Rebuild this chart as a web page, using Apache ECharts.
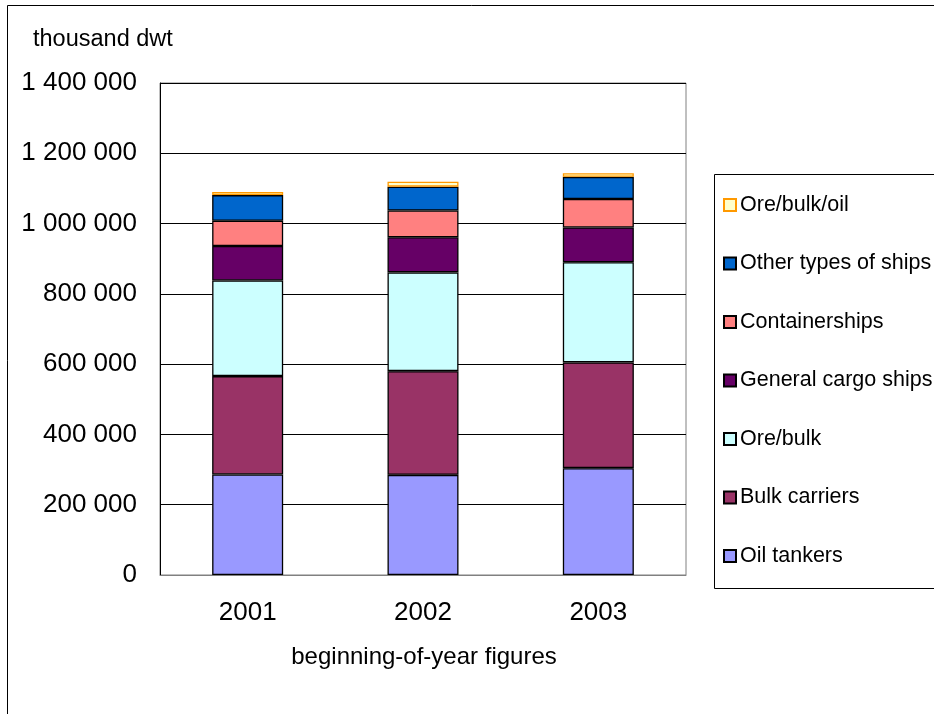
<!DOCTYPE html>
<html>
<head>
<meta charset="utf-8">
<script src="https://cdn.jsdelivr.net/npm/echarts@6/dist/echarts.min.js"></script>
<style>
html,body{margin:0;padding:0;background:#fff;}
#chart{width:934px;height:714px;}
</style>
</head>
<body>
<div id="chart"></div>
<script>
const categories = ['2001', '2002', '2003'];
const oilTankers = [286000, 285000, 304000];
const bulkCarriers = [280000, 295000, 301000];
const oreBulk = [272000, 281000, 285000];
const generalCargo = [98000, 100000, 99000];
const containerships = [72000, 76000, 81000];
const otherTypes = [73000, 68000, 63000];
const oreBulkOil = [9000, 14000, 10000];
const seriesNames = ['Oil tankers', 'Bulk carriers', 'Ore/bulk', 'General cargo ships', 'Containerships', 'Other types of ships', 'Ore/bulk/oil'];
const seriesData = [oilTankers, bulkCarriers, oreBulk, generalCargo, containerships, otherTypes, oreBulkOil];
const colors = ['#9999FF', '#993366', '#CCFFFF', '#660066', '#FF8080', '#0066CC', '#FFFFCC'];
const borders = ['#000', '#000', '#000', '#000', '#000', '#000', '#FF9900'];
const yTicks = [0, 200000, 400000, 600000, 800000, 1000000, 1200000, 1400000];

const FONT = '"Liberation Sans", Arial, sans-serif';
const chart = echarts.init(document.getElementById('chart'), null, {renderer: 'canvas'});

const series = seriesNames.map((n, i) => ({
  name: n,
  type: 'bar',
  stack: 'total',
  barWidth: 71,
  data: seriesData[i],
  itemStyle: {color: colors[i], borderColor: borders[i], borderWidth: 1.3},
  emphasis: {disabled: true},
  animation: false
}));

chart.setOption({
  animation: false,
  backgroundColor: '#fff',
  textStyle: {fontFamily: FONT, color: '#000'},
  grid: {left: 160, top: 83, width: 526, height: 492, show: true, borderColor: '#808080', borderWidth: 1, containLabel: false},
  xAxis: {
    type: 'category',
    data: categories,
    axisLine: {show: true, lineStyle: {color: '#808080', width: 1}},
    axisTick: {show: false},
    axisLabel: {fontSize: 26, color: '#000', margin: 25, fontFamily: FONT},
    splitLine: {show: false}
  },
  yAxis: {
    type: 'value',
    min: yTicks[0],
    max: yTicks[yTicks.length - 1],
    interval: 200000,
    axisLine: {show: true, lineStyle: {color: '#000', width: 1}},
    axisTick: {show: false},
    splitLine: {show: true, lineStyle: {color: '#000', width: 1}},
    axisLabel: {
      fontSize: 26, color: '#000', margin: 23, fontFamily: FONT,
      formatter: v => String(v).replace(/\B(?=(\d{3})+(?!\d))/g, ' ')
    }
  },
  legend: {
    orient: 'vertical',
    left: 718,
    top: 189,
    itemWidth: 12,
    itemHeight: 12,
    itemGap: 36.5,
    icon: 'rect',
    data: seriesNames.slice().reverse(),
    textStyle: {fontSize: 21.5, color: '#000', fontFamily: FONT, padding: [0, 0, 0, -1]},
    selectedMode: false
  },
  graphic: [
    {type: 'rect', shape: {x: 7.5, y: 5.5, width: 1000, height: 1000}, style: {fill: 'none', stroke: '#000', lineWidth: 1}, z: -10},
    {type: 'rect', shape: {x: 714.5, y: 174.5, width: 400, height: 414}, style: {fill: 'none', stroke: '#000', lineWidth: 1}, z: -10},
    {type: 'text', left: 33, top: 28, style: {text: 'thousand dwt', fontSize: 23.5, fill: '#000', fontFamily: FONT}},
    {type: 'text', x: 424, y: 645, style: {text: 'beginning-of-year figures', fontSize: 24, fill: '#000', fontFamily: FONT, textAlign: 'center'}}
  ],
  series: series
});
</script>
</body>
</html>
